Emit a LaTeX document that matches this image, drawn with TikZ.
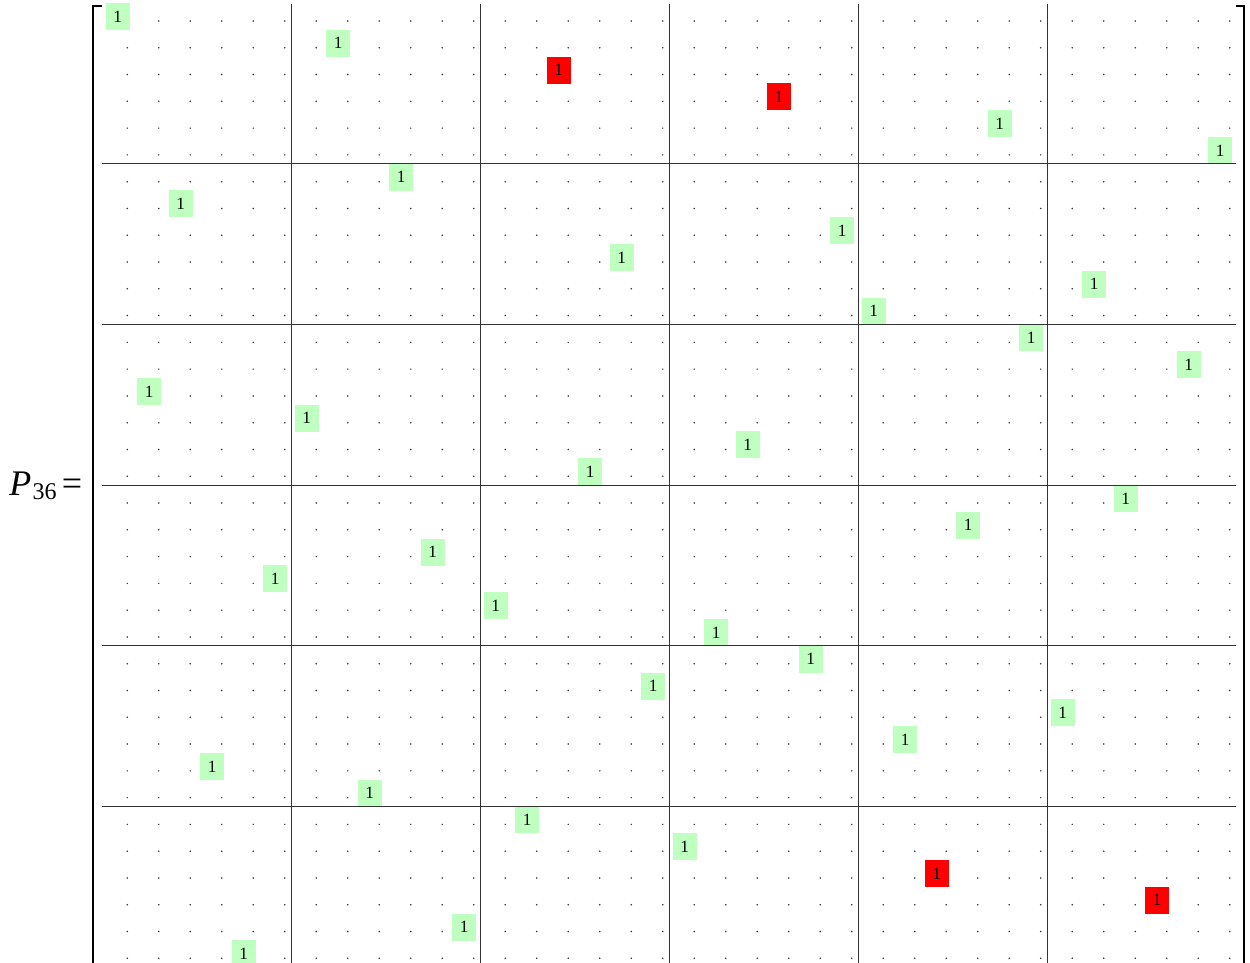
\documentclass[tikz,border=0pt]{standalone}
\usepackage{fontspec}
\setmainfont{Liberation Serif}
\begin{document}
\begin{tikzpicture}[x=0.5pt,y=-0.5pt,
  onebox/.style={minimum width=12pt, minimum height=13.5pt, inner sep=0pt, font=\fontsize{8.6}{10}\selectfont},
  blockline/.style={black!80, line width=0.5pt},
  bracket/.style={black, line width=1.1pt, line join=miter},
  matdot/.style={black!80}]
\useasboundingbox (0,0) rectangle (1250,963);
\clip (0,0) rectangle (1250,963);
\def\perm{0,7,14,21,28,35,9,2,23,16,31,24,29,34,1,6,20,15,32,27,10,5,12,19,22,17,30,25,3,8,13,18,26,33,11,4}
% dots
\foreach \p [count=\r from 0] in \perm {
  \foreach \c in {0,...,35} {
    \ifnum\c=\p\relax\else
      \fill[matdot] ({117.75+31.5*\c+9.5},{16.5+26.78*\r+4.5}) circle (0.42pt);
    \fi
  }
}
% entries
\foreach \p [count=\r from 0] in \perm {
  \pgfmathtruncatemacro\isred{or(or(\r==2,\r==3),or(\r==32,\r==33))}
  \ifnum\isred=1 \def\bc{red}\else\def\bc{green!25}\fi
  \node[onebox, fill=\bc] (one-\r) at ({117.75+31.5*\p},{16.5+26.78*\r}) {1};
}
% block lines
\foreach \k in {1,...,5} {
  \draw[blockline] ({102+189*\k},4) -- ({102+189*\k},970);
  \draw[blockline] (102,{16.5+26.78*(6*\k-0.5)}) -- (1236,{16.5+26.78*(6*\k-0.5)});
}
% brackets
\coordinate (lbt) at (101.5,6);
\coordinate (rbt) at (1235.5,6);
\draw[bracket] (lbt) -- (93,6) -- (93,980);
\draw[bracket] (rbt) -- (1244,6) -- (1244,980);
% label
\node[anchor=base west, inner sep=0pt, font=\fontsize{18}{20}\selectfont] (lbl) at (9,495)
  {\itshape P\kern0.6pt\raisebox{-2.2pt}{\upshape\fontsize{12}{13}\selectfont 36}\kern2.6pt\upshape=};
\end{tikzpicture}
\end{document}
